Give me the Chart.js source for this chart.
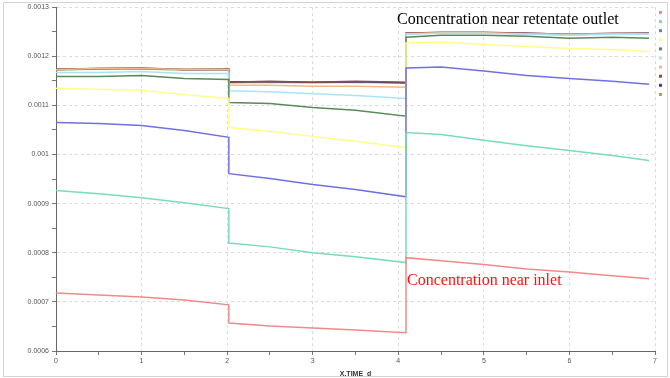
<!DOCTYPE html>
<html>
<head>
<meta charset="utf-8">
<script src="https://cdn.jsdelivr.net/npm/chart.js@4.4.1/dist/chart.umd.min.js"></script>
<style>
  html, body { margin: 0; padding: 0; background: #fff; }
  #wrap { position: relative; width: 670px; height: 378px; }
  #frame { position: absolute; left: 3px; top: 2px; width: 663px; height: 373px; border: 1px solid #d4d4d4; pointer-events: none; }
</style>
</head>
<body>
<div id="wrap">
  <canvas id="chart" width="670" height="378"></canvas>
  <div id="frame"></div>
</div>
<script>
// time points (days); repeated values are the step changes
const timeDays = [0, 0.5, 1, 1.5, 2.02, 2.02, 2.5, 3, 3.5, 4.09, 4.09, 4.5, 5, 5.5, 6, 6.5, 6.93];

const seriesRed = [0.000718, 0.000714, 0.000710, 0.000704, 0.000694, 0.000657, 0.000651, 0.000647, 0.000643, 0.000637, 0.000790, 0.000784, 0.000776, 0.000767, 0.000761, 0.000753, 0.000747];
const seriesTeal = [0.000927, 0.000920, 0.000912, 0.000902, 0.000890, 0.000820, 0.000812, 0.000800, 0.000792, 0.000780, 0.001045, 0.001041, 0.001029, 0.001018, 0.001008, 0.000998, 0.000988];
const seriesBlue = [0.001065, 0.001063, 0.001059, 0.001049, 0.001035, 0.000961, 0.000951, 0.000939, 0.000929, 0.000914, 0.001176, 0.001178, 0.001170, 0.001161, 0.001155, 0.001149, 0.001143];
const seriesYellow = [0.001135, 0.001133, 0.001131, 0.001122, 0.001114, 0.001055, 0.001047, 0.001037, 0.001027, 0.001014, 0.001227, 0.001229, 0.001224, 0.001220, 0.001216, 0.001214, 0.001210];
const seriesGreen = [0.001159, 0.001159, 0.001161, 0.001155, 0.001153, 0.001106, 0.001104, 0.001096, 0.001090, 0.001078, 0.001239, 0.001243, 0.001243, 0.001241, 0.001237, 0.001239, 0.001237];
const seriesCyan = [0.001167, 0.001167, 0.001169, 0.001165, 0.001165, 0.001130, 0.001128, 0.001124, 0.001120, 0.001114, 0.001245, 0.001247, 0.001247, 0.001245, 0.001243, 0.001245, 0.001245];
const seriesOrange = [0.001173, 0.001175, 0.001175, 0.001173, 0.001173, 0.001141, 0.001141, 0.001139, 0.001139, 0.001137, 0.001246, 0.001248, 0.001248, 0.001246, 0.001245, 0.001246, 0.001246];
const seriesBrown = [0.001173, 0.001175, 0.001176, 0.001173, 0.001174, 0.001147, 0.001149, 0.001147, 0.001149, 0.001147, 0.001247, 0.001249, 0.001249, 0.001247, 0.001245, 0.001247, 0.001247];
const seriesNavy = [0.001174, 0.001175, 0.001175, 0.001173, 0.001173, 0.001148, 0.001148, 0.001147, 0.001148, 0.001146, 0.001247, 0.001248, 0.001248, 0.001247, 0.001245, 0.001246, 0.001247];
const seriesOlive = [0.001172, 0.001174, 0.001174, 0.001172, 0.001172, 0.001146, 0.001147, 0.001146, 0.001147, 0.001145, 0.001246, 0.001248, 0.001248, 0.001246, 0.001244, 0.001246, 0.001245];

const seriesColors = ["#f08a8a", "#78dcb8", "#7070e0", "#ffff88", "#5a8a5a", "#a8e4f4", "#f4b888", "#904848", "#40409a", "#a4a458"];

const yTicksMin = 0.0006;
const yTicksMax = 0.0013;

function toPoints(values) {
  return values.map((v, i) => ({ x: timeDays[i], y: v }));
}

const allSeries = [seriesRed, seriesTeal, seriesBlue, seriesYellow, seriesGreen, seriesCyan, seriesOrange, seriesBrown, seriesNavy, seriesOlive];

// legend column of small squares on the right
const squareLegend = {
  id: "squareLegend",
  afterDraw(chart) {
    const ctx = chart.ctx;
    chart.data.datasets.forEach((ds, i) => {
      ctx.fillStyle = ds.borderColor;
      ctx.fillRect(659, 11 + i * 9.1, 3, 3);
    });
  }
};

// text notes on the plot
const notes = {
  id: "notes",
  afterDraw(chart) {
    const ctx = chart.ctx;
    ctx.save();
    ctx.font = "16px 'Liberation Serif', 'Times New Roman', serif";
    ctx.textBaseline = "alphabetic";
    ctx.fillStyle = "#000";
    ctx.fillText("Concentration near retentate outlet", 397, 24);
    ctx.fillStyle = "#ff1010";
    ctx.fillText("Concentration near inlet", 407, 285);
    ctx.restore();
  }
};

function isMajor(v, unit) {
  const r = v / unit;
  return Math.abs(r - Math.round(r)) < 1e-6;
}

new Chart(document.getElementById("chart"), {
  type: "line",
  data: {
    datasets: allSeries.map((vals, i) => ({
      data: toPoints(vals),
      borderColor: seriesColors[i],
      backgroundColor: seriesColors[i],
      borderWidth: 1.5,
      pointRadius: 0,
      tension: 0
    }))
  },
  options: {
    responsive: false,
    animation: false,
    layout: { padding: { left: 0, right: 15, top: 7, bottom: 0 } },
    plugins: {
      legend: { display: false },
      tooltip: { enabled: false }
    },
    scales: {
      x: {
        type: "linear",
        min: 0,
        max: 7,
        ticks: {
          stepSize: 0.5,
          autoSkip: false,
          maxRotation: 0,
          padding: 2,
          color: "#555",
          font: { family: "'Liberation Sans', Arial", size: 7 },
          callback: (v) => (isMajor(v, 1) ? String(v) : "")
        },
        grid: {
          color: (c) => (isMajor(c.tick.value, 1) ? "#dadada" : "rgba(0,0,0,0)"),
          tickColor: "#777",
          tickLength: 4
        },
        border: { color: "#666", width: 1, dash: [3, 3] },
        title: {
          display: true,
          text: "X.TIME_d",
          color: "#333",
          padding: { top: 0, bottom: 0 },
          font: { family: "'Liberation Sans', Arial", size: 7, weight: "bold" }
        },
        afterFit: (scale) => { scale.height = 27; }
      },
      y: {
        min: yTicksMin,
        max: yTicksMax,
        ticks: {
          stepSize: 0.00005,
          autoSkip: false,
          padding: 3,
          color: "#555",
          font: { family: "'Liberation Sans', Arial", size: 7 },
          callback: (v) => (isMajor(v, 0.0001) ? String(parseFloat(v.toFixed(4))) : "")
        },
        grid: {
          color: (c) => (isMajor(c.tick.value, 0.0001) ? "#dadada" : "rgba(0,0,0,0)"),
          tickColor: "#777",
          tickLength: 4
        },
        border: { color: "#666", width: 1, dash: [3, 3] },
        afterFit: (scale) => { scale.width = 56; }
      }
    }
  },
  plugins: [squareLegend, notes]
});
</script>
</body>
</html>
